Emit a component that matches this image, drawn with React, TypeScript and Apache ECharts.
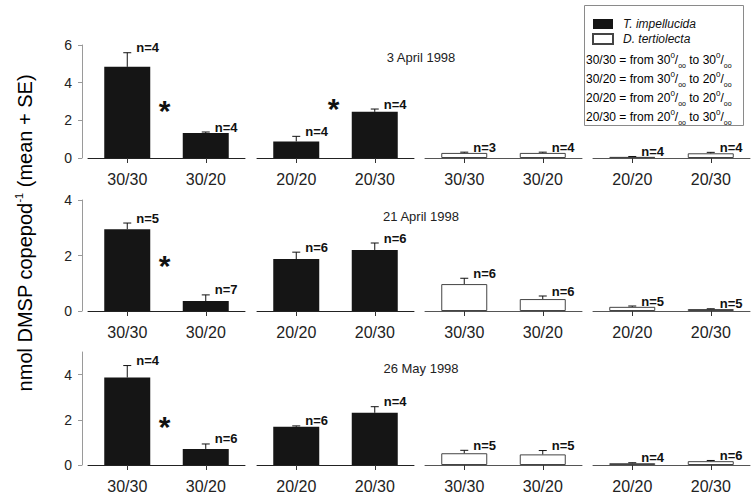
import React, { useEffect, useRef } from 'react';
import * as echarts from 'echarts';

// ---------- data ----------
const dates = ['3 April 1998', '21 April 1998', '26 May 1998'];
const groupCategories = [
  ['30/30', '30/20'],
  ['20/20', '20/30'],
  ['30/30', '30/20'],
  ['20/20', '20/30'],
];
const speciesNames = ['T. impellucida', 'D. tertiolecta'];
const groupSpecies = [0, 0, 1, 1];
const yMax = [6, 4, 5];
const yTickValues = [
  [0, 2, 4, 6],
  [0, 2, 4],
  [0, 2, 4],
];

// means / SE / n, per date: order = group1(2 bars), group2, group3, group4
const april3Mean = [4.84, 1.33, 0.88, 2.45, 0.27, 0.27, 0.06, 0.25];
const april3SE = [0.75, 0.05, 0.27, 0.15, 0.04, 0.04, 0.02, 0.05];
const april3N = [4, 4, 4, 4, 3, 4, 4, 4];

const april21Mean = [2.95, 0.36, 1.87, 2.2, 0.97, 0.43, 0.15, 0.07];
const april21SE = [0.22, 0.22, 0.25, 0.25, 0.21, 0.11, 0.03, 0.01];
const april21N = [5, 7, 6, 6, 6, 6, 5, 5];

const may26Mean = [3.87, 0.71, 1.69, 2.31, 0.52, 0.47, 0.08, 0.17];
const may26SE = [0.53, 0.22, 0.04, 0.27, 0.13, 0.17, 0.02, 0.03];
const may26N = [4, 6, 6, 4, 5, 5, 4, 6];

const rowMeans = [april3Mean, april21Mean, may26Mean];
const rowSE = [april3SE, april21SE, may26SE];
const rowN = [april3N, april21N, may26N];

// significance asterisks (y value), per date, per group
const asteriskY = [
  [2.9, 3.0, null, null],
  [1.9, null, null, null],
  [2.0, null, null, null],
];

const treatmentCodes = ['30/30', '30/20', '20/20', '20/30'];
const yAxisTitle = ['nmol DMSP copepod', '-1', ' (mean + SE)'];

// ---------- layout ----------
const FONT = "'Liberation Sans', Arial, Helvetica, sans-serif";
const groupLeft = [88, 257, 425, 593];
const groupWidth = 157;
const rowTop = [45, 200, 352];
const rowHeight = [113, 111, 113];
const dateY = [57, 216, 368];

function buildOption() {
  const grid: any[] = [];
  const xAxis: any[] = [];
  const yAxis: any[] = [];
  const series: any[] = [];

  for (let r = 0; r < 3; r++) {
    for (let g = 0; g < 4; g++) {
      const idx = r * 4 + g;
      const sp = groupSpecies[g];
      grid.push({ left: groupLeft[g], top: rowTop[r], width: groupWidth, height: rowHeight[r], containLabel: false });
      xAxis.push({
        type: 'category',
        gridIndex: idx,
        data: groupCategories[g],
        axisLine: { show: true, lineStyle: { color: sp === 0 ? '#222' : '#555', width: 1 } },
        axisTick: { show: true, alignWithLabel: true, length: 5, lineStyle: { color: '#333' } },
        axisLabel: { show: true, fontSize: 16, fontFamily: FONT, color: '#222', margin: 13 },
        splitLine: { show: false },
      });
      yAxis.push({
        type: 'value',
        gridIndex: idx,
        min: 0,
        max: yMax[r],
        interval: 2,
        show: g === 0,
        offset: 6,
        axisLine: { show: true, lineStyle: { color: '#9a9a9a', width: 1 } },
        axisTick: { show: true, length: 4, lineStyle: { color: '#9a9a9a' }, customValues: yTickValues[r] },
        axisLabel: { fontSize: 14, fontFamily: FONT, color: '#222', margin: 10, customValues: yTickValues[r] },
        splitLine: { show: false },
      });

      const means = rowMeans[r].slice(g * 2, g * 2 + 2);
      const ses = rowSE[r].slice(g * 2, g * 2 + 2);
      const ns = rowN[r].slice(g * 2, g * 2 + 2);

      series.push({
        type: 'bar',
        name: speciesNames[sp],
        xAxisIndex: idx,
        yAxisIndex: idx,
        barWidth: 46,
        data: means,
        itemStyle:
          sp === 0
            ? { color: '#151515', borderColor: '#151515', borderWidth: 0 }
            : { color: '#ffffff', borderColor: '#444', borderWidth: 1 },
        z: 2,
      });

      series.push({
        type: 'custom',
        name: 'se',
        xAxisIndex: idx,
        yAxisIndex: idx,
        data: means.map((m, i) => [i, m, ses[i], ns[i]]),
        encode: { x: 0, y: 1 },
        z: 3,
        clip: false,
        renderItem: (params: any, api: any) => {
          const x = api.value(0);
          const m = api.value(1);
          const se = api.value(2);
          const n = api.value(3);
          const top = api.coord([x, m + se]);
          const base = api.coord([x, m]);
          return {
            type: 'group',
            children: [
              { type: 'line', shape: { x1: top[0], y1: base[1], x2: top[0], y2: top[1] }, style: { stroke: '#111', lineWidth: 1 } },
              { type: 'line', shape: { x1: top[0] - 4, y1: top[1], x2: top[0] + 4, y2: top[1] }, style: { stroke: '#111', lineWidth: 1 } },
              {
                type: 'text',
                x: top[0] + 9,
                y: top[1] - 5,
                style: {
                  text: 'n=' + n,
                  font: 'bold 13px ' + FONT,
                  fill: '#111',
                  align: 'left',
                  verticalAlign: 'middle',
                  textAlign: 'left',
                  textVerticalAlign: 'middle',
                },
              },
            ],
          };
        },
      });

      const ay = asteriskY[r][g];
      if (ay !== null) {
        series.push({
          type: 'custom',
          name: 'sig',
          xAxisIndex: idx,
          yAxisIndex: idx,
          data: [[0, ay]],
          encode: { x: 0, y: 1 },
          z: 4,
          clip: false,
          renderItem: (params: any, api: any) => {
            const yv = api.value(1);
            const p0 = api.coord([0, yv]);
            const p1 = api.coord([1, yv]);
            return {
              type: 'text',
              x: (p0[0] + p1[0]) / 2 - 2,
              y: p0[1] + 7,
              style: {
                text: '*',
                font: 'bold 30px ' + FONT,
                fill: '#111',
                align: 'center',
                verticalAlign: 'middle',
                textAlign: 'center',
                textVerticalAlign: 'middle',
              },
            };
          },
        });
      }
    }
  }

  const graphic: any[] = [];
  // legend box
  graphic.push({
    type: 'rect',
    left: 584,
    top: 5,
    z: 0,
    shape: { width: 159, height: 120 },
    style: { fill: '#fff', stroke: '#8a8a8a', lineWidth: 1 },
  });
  const ruleY = [60, 79, 98, 117];
  treatmentCodes.forEach((code, i) => {
    const [from, to] = code.split('/');
    graphic.push({
      type: 'text',
      x: 586,
      y: ruleY[i],
      z: 5,
      style: {
        text: `{t|${code} = from ${from}}{sup|0}{t|/}{sub|oo}{t| to ${to}}{sup|0}{t|/}{sub|oo}`,
        align: 'left',
        verticalAlign: 'middle',
        textAlign: 'left',
        textVerticalAlign: 'middle',
        rich: {
          t: { fontSize: 12, fontFamily: FONT, color: '#1a1a1a', lineHeight: 18, verticalAlign: 'middle' },
          sup: { fontSize: 8, fontFamily: FONT, color: '#1a1a1a', verticalAlign: 'top' },
          sub: { fontSize: 7, fontFamily: FONT, color: '#555', verticalAlign: 'bottom' },
        },
      },
    });
  });
  // date titles
  dates.forEach((d, r) => {
    graphic.push({
      type: 'text',
      x: 421,
      y: dateY[r],
      z: 5,
      style: {
        text: d,
        font: '13px ' + FONT,
        fill: '#222',
        align: 'center',
        verticalAlign: 'middle',
        textAlign: 'center',
        textVerticalAlign: 'middle',
      },
    });
  });
  // y axis title
  graphic.push({
    type: 'text',
    x: 25,
    y: 233,
    rotation: Math.PI / 2,
    z: 5,
    style: {
      text: `{a|${yAxisTitle[0]}}{s|${yAxisTitle[1]}}{a|${yAxisTitle[2]}}`,
      align: 'center',
      verticalAlign: 'middle',
      textAlign: 'center',
      textVerticalAlign: 'middle',
      rich: {
        a: { fontSize: 20, fontFamily: FONT, color: '#222', lineHeight: 24, verticalAlign: 'middle' },
        s: { fontSize: 11, fontFamily: FONT, color: '#222', verticalAlign: 'top' },
      },
    },
  });

  return {
    animation: false,
    backgroundColor: '#ffffff',
    grid,
    xAxis,
    yAxis,
    series,
    graphic,
    legend: {
      data: speciesNames,
      orient: 'vertical',
      left: 587,
      top: 13,
      itemWidth: 20,
      itemHeight: 10,
      itemGap: 3,
      icon: 'rect',
      selectedMode: false,
      z: 10,
      textStyle: { fontStyle: 'italic', fontSize: 12, fontFamily: FONT, color: '#111', padding: [0, 0, 0, 5] },
    },
  };
}

export default function App() {
  const ref = useRef<HTMLDivElement>(null);
  useEffect(() => {
    document.body.style.margin = '0';
    if (!ref.current) return;
    const chart = echarts.init(ref.current, null, { renderer: 'svg' });
    chart.setOption(buildOption() as any);
    return () => chart.dispose();
  }, []);
  return <div ref={ref} style={{ width: 753, height: 497 }} />;
}
